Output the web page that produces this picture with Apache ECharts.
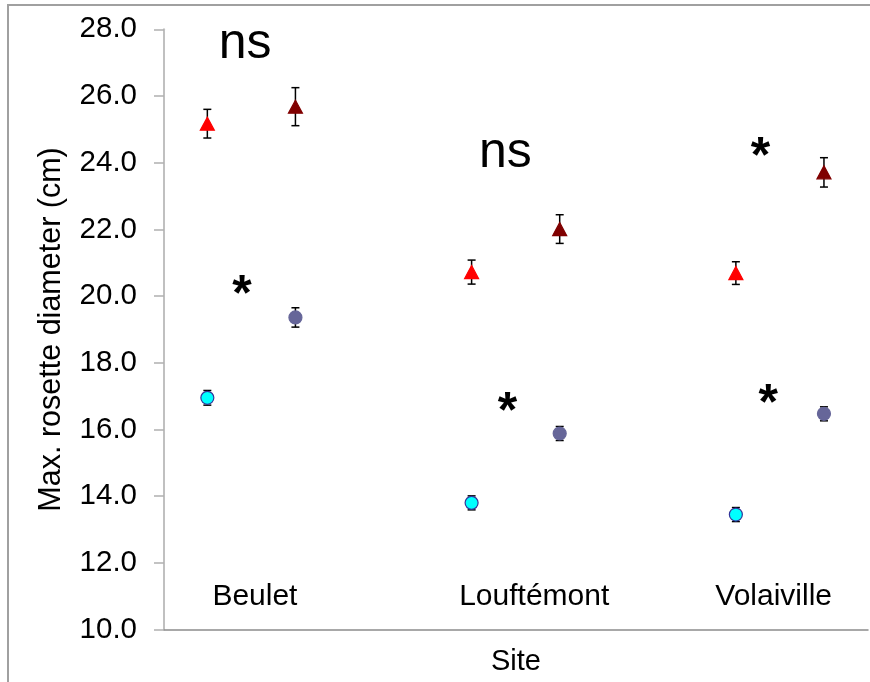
<!DOCTYPE html>
<html>
<head>
<meta charset="utf-8">
<script src="https://cdn.jsdelivr.net/npm/echarts@6/dist/echarts.min.js"></script>
<style>
  html, body { margin: 0; padding: 0; background: #fff; }
  #chart { width: 870px; height: 682px; }
</style>
</head>
<body>
<div id="chart"></div>
<script>
// Sites and their positions on the horizontal value axis
const sites = ['Beulet', 'Louftémont', 'Volaiville'];
const sitePos = [1, 2, 3];
const pairOffset = 1 / 3;

// Y axis scale
const yMin = 10, yMax = 28, yStep = 2;

// Group means and error half-widths (cm)
const cyanMean   = [16.95, 13.80, 13.45];
const cyanErr    = [0.22, 0.21, 0.21];
const slateMean  = [19.36, 15.88, 16.47];
const slateErr   = [0.29, 0.21, 0.21];
const redMean    = [25.17, 20.72, 20.69];
const redErr     = [0.43, 0.36, 0.34];
const maroonMean = [25.68, 22.01, 23.71];
const maroonErr  = [0.57, 0.43, 0.44];

// Significance marks (data coordinates)
const sigText = ['ns', 'ns', '*', '*', '*', '*'];
const sigX    = [1.143, 2.128, 1.131, 2.136, 3.093, 3.122];
const sigY    = [27.54, 24.29, 19.99, 16.49, 24.13, 16.74];

// Site name labels inside the plot (data coordinates)
const siteLabelX = [1.18, 2.237, 3.143];
const siteLabelY = [11.0, 11.0, 11.0];

const FONT = '"Liberation Sans", Arial, sans-serif';

const xsA = sitePos;
const xsB = sitePos.map(p => p + pairOffset);

function points(xs, means) {
  return xs.map((x, i) => [x, means[i]]);
}
function bars(xs, means, errs) {
  return xs.map((x, i) => [x, means[i] - errs[i], means[i] + errs[i]]);
}

function renderErr(params, api) {
  const x = api.value(0);
  const lo = api.coord([x, api.value(1)]);
  const hi = api.coord([x, api.value(2)]);
  const w = 4;
  const style = { stroke: '#000', lineWidth: 1.5 };
  return {
    type: 'group',
    children: [
      { type: 'line', shape: { x1: hi[0], y1: hi[1], x2: lo[0], y2: lo[1] }, style },
      { type: 'line', shape: { x1: hi[0] - w, y1: hi[1], x2: hi[0] + w, y2: hi[1] }, style },
      { type: 'line', shape: { x1: lo[0] - w, y1: lo[1], x2: lo[0] + w, y2: lo[1] }, style }
    ]
  };
}

function errSeries(name, xs, means, errs) {
  return {
    name: name,
    type: 'custom',
    renderItem: renderErr,
    encode: { x: 0, y: [1, 2] },
    data: bars(xs, means, errs),
    z: 1,
    silent: true
  };
}

function markSeries(name, xs, means, symbol, size, color, border) {
  return {
    name: name,
    type: 'scatter',
    data: points(xs, means),
    symbol: symbol,
    symbolSize: size,
    itemStyle: { color: color, borderColor: border, borderWidth: 1.2, opacity: 1 },
    z: 3,
    silent: true
  };
}

function textSeries(name, texts, xs, ys, fontSize, weightOf) {
  return {
    name: name,
    type: 'scatter',
    symbolSize: 0,
    silent: true,
    itemStyle: { opacity: 1 },
    data: texts.map((t, i) => ({
      name: t,
      value: [xs[i], ys[i]],
      label: { fontWeight: weightOf ? weightOf(t) : 'normal' }
    })),
    label: {
      show: true, position: 'inside', formatter: '{b}',
      fontSize: fontSize, color: '#000', opacity: 1, fontFamily: FONT,
      align: 'center', verticalAlign: 'middle', textBorderWidth: 0
    },
    z: 4
  };
}

const chart = echarts.init(document.getElementById('chart'), null, { renderer: 'canvas' });

chart.setOption({
  animation: false,
  backgroundColor: '#fff',
  textStyle: { fontFamily: FONT },
  grid: {
    left: 164, right: 2, top: 29.3, bottom: 52.4,
    containLabel: false,
    outerBoundsMode: 'none'
  },
  xAxis: {
    type: 'value',
    min: 0.836, max: 3.5,
    axisLine: { show: true, onZero: false, lineStyle: { color: '#8c8c8c', width: 1.5 } },
    axisTick: { show: false },
    axisLabel: { show: false },
    splitLine: { show: false },
    name: 'Site',
    nameLocation: 'middle',
    nameGap: 18,
    nameTextStyle: { fontSize: 29, color: '#000', fontFamily: FONT }
  },
  yAxis: {
    type: 'value',
    min: yMin, max: yMax, interval: yStep,
    axisLine: { show: true, lineStyle: { color: '#c0c0c0', width: 2 } },
    axisTick: { show: true, length: 10, lineStyle: { color: '#b0b0b0', width: 1.5 } },
    axisLabel: {
      fontSize: 29.5, color: '#000', margin: 27, fontFamily: FONT,
      formatter: v => v.toFixed(1)
    },
    splitLine: { show: false },
    name: 'Max. rosette diameter (cm)',
    nameLocation: 'middle',
    nameGap: 97,
    nameTextStyle: { fontSize: 30.5, color: '#000', fontFamily: FONT }
  },
  graphic: [{
    type: 'rect',
    shape: { x: 8, y: 5, width: 900, height: 720 },
    style: { fill: 'none', stroke: '#a0a0a0', lineWidth: 2 },
    silent: true,
    z: 0
  }],
  series: [
    errSeries('cyanErr', xsA, cyanMean, cyanErr),
    errSeries('slateErr', xsB, slateMean, slateErr),
    errSeries('redErr', xsA, redMean, redErr),
    errSeries('maroonErr', xsB, maroonMean, maroonErr),
    markSeries('cyan', xsA, cyanMean, 'circle', 13, '#00ffff', '#333399'),
    markSeries('slate', xsB, slateMean, 'circle', 13, '#666699', '#666699'),
    markSeries('red', xsA, redMean, 'triangle', [14, 13], '#ff0000', '#ff0000'),
    markSeries('maroon', xsB, maroonMean, 'triangle', [14, 13], '#800000', '#800000'),
    textSeries('siteNames', sites, siteLabelX, siteLabelY, 30),
    textSeries('significance', sigText, sigX, sigY, 50, t => (t === '*' ? 'bold' : 'normal'))
  ]
});
</script>
</body>
</html>
